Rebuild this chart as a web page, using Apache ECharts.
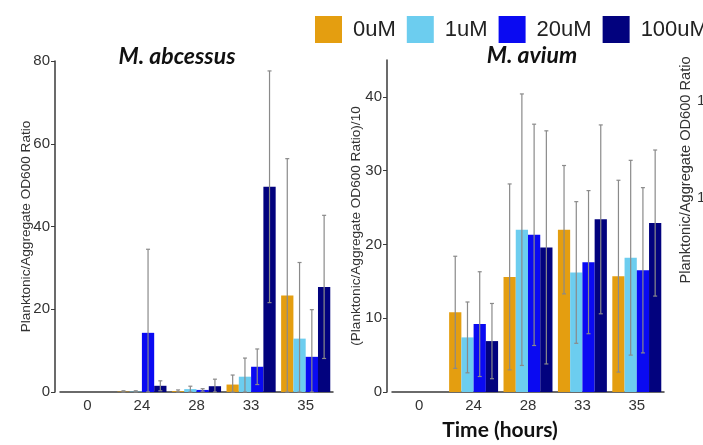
<!DOCTYPE html>
<html lang="en">
<head>
    <meta charset="UTF-8">
    <title>Planktonic/Aggregate ratio</title>
</head>
<style>
    html, body{
        margin: 0;
        padding: 0;
        background-color: #fff;
    }
    .main{
        width: 703px;
        height: 445px;
    }
</style>
<body>
<div id="main" class="main"></div>
<script src="https://cdn.jsdelivr.net/npm/echarts@6/dist/echarts.min.js"></script>
<script>
    // time points (hours)
    var categories = ['0', '24', '28', '33', '35'];
    var doses = ['0uM', '1uM', '20uM', '100uM'];
    var colors = ['#e49e10', '#6ccdef', '#0a0af2', '#02027e'];

    // M. abcessus means / sd
    var ab0 = [0, 0.1, 0.2, 1.8, 23.3];
    var ab1 = [0, 0.1, 0.7, 3.7, 12.9];
    var ab20 = [0, 14.3, 0.5, 6.1, 8.5];
    var ab100 = [0, 1.5, 1.4, 49.6, 25.4];
    var abErr0 = [0, 0.2, 0.3, 2.3, 33.1];
    var abErr1 = [0, 0.2, 0.7, 4.5, 18.4];
    var abErr20 = [0, 20.2, 0.3, 4.3, 11.4];
    var abErr100 = [0, 1.2, 1.7, 28.0, 17.3];

    // M. avium means / sd  (ratio / 10)
    var av0 = [0, 10.8, 15.6, 22.0, 15.7];
    var av1 = [0, 7.4, 22.0, 16.2, 18.2];
    var av20 = [0, 9.2, 21.3, 17.6, 16.5];
    var av100 = [0, 6.9, 19.6, 23.4, 22.9];
    var avErr0 = [0, 7.6, 12.6, 8.7, 13.0];
    var avErr1 = [0, 4.8, 18.4, 9.6, 13.2];
    var avErr20 = [0, 7.1, 15.0, 9.7, 11.2];
    var avErr100 = [0, 5.1, 15.8, 12.8, 9.9];

    var abMeans = [ab0, ab1, ab20, ab100];
    var abErrs = [abErr0, abErr1, abErr20, abErr100];
    var avMeans = [av0, av1, av20, av100];
    var avErrs = [avErr0, avErr1, avErr20, avErr100];

    var font = '"Liberation Sans", Arial, sans-serif';
    var axisColor = '#3a3a3a';

    // rows of [category, dose index, mean, sd]
    function errRows(means, errs) {
        var rows = [];
        for (var s = 0; s < means.length; s++) {
            for (var c = 0; c < categories.length; c++) {
                if (errs[s][c] > 0) rows.push([c, s, means[s][c], errs[s][c]]);
            }
        }
        return rows;
    }

    function renderErr(params, api) {
        var c = api.value(0), s = api.value(1), m = api.value(2), e = api.value(3);
        var top = api.coord([c, m + e]);
        var bot = api.coord([c, Math.max(m - e, 0)]);
        var cw = api.size([1, 0])[0];
        var bw = cw * 0.9 / 4;
        var x = top[0] + (s - 1.5) * bw;
        var st = {stroke: '#8a8a8a', lineWidth: 1.2};
        return {
            type: 'group',
            children: [
                {type: 'line', shape: {x1: x, y1: top[1], x2: x, y2: bot[1]}, style: st},
                {type: 'line', shape: {x1: x - 2, y1: top[1], x2: x + 2, y2: top[1]}, style: st},
                {type: 'line', shape: {x1: x - 2, y1: bot[1], x2: x + 2, y2: bot[1]}, style: st}
            ]
        };
    }

    var series = [];
    for (var i = 0; i < doses.length; i++) {
        series.push({
            name: doses[i], type: 'bar', xAxisIndex: 0, yAxisIndex: 0,
            barGap: '0%', barCategoryGap: '10%',
            itemStyle: {color: colors[i]},
            data: abMeans[i]
        });
    }
    for (var j = 0; j < doses.length; j++) {
        series.push({
            name: doses[j], type: 'bar', xAxisIndex: 1, yAxisIndex: 1,
            barGap: '0%', barCategoryGap: '10%',
            itemStyle: {color: colors[j]},
            data: avMeans[j]
        });
    }
    series.push({type: 'custom', xAxisIndex: 0, yAxisIndex: 0, z: 5, renderItem: renderErr, data: errRows(abMeans, abErrs)});
    series.push({type: 'custom', xAxisIndex: 1, yAxisIndex: 1, z: 5, renderItem: renderErr, data: errRows(avMeans, avErrs)});

    function xAx(idx) {
        return {
            type: 'category', gridIndex: idx, data: categories,
            axisLine: {lineStyle: {color: axisColor, width: 1.5}},
            axisTick: {alignWithLabel: true, length: 4, lineStyle: {color: axisColor}},
            axisLabel: {color: '#333', fontSize: 15, fontFamily: font, margin: 6}
        };
    }
    function yAx(idx, max, vals, name, gap) {
        return {
            type: 'value', gridIndex: idx, min: 0, max: max, offset: 5,
            name: name, nameLocation: 'middle', nameGap: gap, nameMoveOverlap: false,
            nameTextStyle: {color: '#333', fontSize: 13.6, fontFamily: font},
            splitLine: {show: false},
            axisLine: {show: true, lineStyle: {color: axisColor, width: 1.5}},
            axisTick: {show: true, length: 4, customValues: vals, lineStyle: {color: axisColor}},
            axisLabel: {color: '#333', fontSize: 15, fontFamily: font, margin: 5, customValues: vals}
        };
    }

    var app = echarts.init(document.getElementById('main'));
    var option = {
        animation: false,
        backgroundColor: '#fff',
        legend: {
            data: doses,
            left: 310, top: 11, width: 420,
            icon: 'rect', itemWidth: 27, itemHeight: 27, itemGap: 11,
            textStyle: {color: '#222', fontSize: 22, fontFamily: font, padding: [0, 0, 0, 6]}
        },
        grid: [
            {left: 60, top: 61, width: 273, height: 331},
            {left: 392, top: 60, width: 272, height: 332}
        ],
        xAxis: [xAx(0), xAx(1)],
        yAxis: [
            yAx(0, 80, [0, 20, 40, 60, 80], 'Planktonic/Aggregate OD600 Ratio', 22),
            yAx(1, 45, [0, 10, 20, 30, 40], '(Planktonic/Aggregate OD600 Ratio)/10', 24)
        ],
        series: series,
        graphic: [
            {type: 'text', x: 177, y: 57, style: {text: 'M. abcessus', textAlign: 'center', textVerticalAlign: 'middle', font: 'italic bold 23px Lato, sans-serif', fill: '#111'}},
            {type: 'text', x: 532, y: 56, style: {text: 'M. avium', textAlign: 'center', textVerticalAlign: 'middle', font: 'italic bold 23px Lato, sans-serif', fill: '#111'}},
            {type: 'text', x: 500, y: 430, style: {text: 'Time (hours)', textAlign: 'center', textVerticalAlign: 'middle', font: 'bold 21px Lato, sans-serif', fill: '#111'}},
            {type: 'text', x: 686, y: 170, rotation: Math.PI / 2, style: {text: 'Planktonic/Aggregate OD600 Ratio', textAlign: 'center', textVerticalAlign: 'middle', font: '14.6px ' + font, fill: '#333'}},
            {type: 'text', x: 697, y: 101, style: {text: '1', textVerticalAlign: 'middle', font: '15px ' + font, fill: '#333'}},
            {type: 'text', x: 697, y: 198, style: {text: '1', textVerticalAlign: 'middle', font: '15px ' + font, fill: '#333'}}
        ]
    };
    app.setOption(option);
</script>
</body>
</html>
